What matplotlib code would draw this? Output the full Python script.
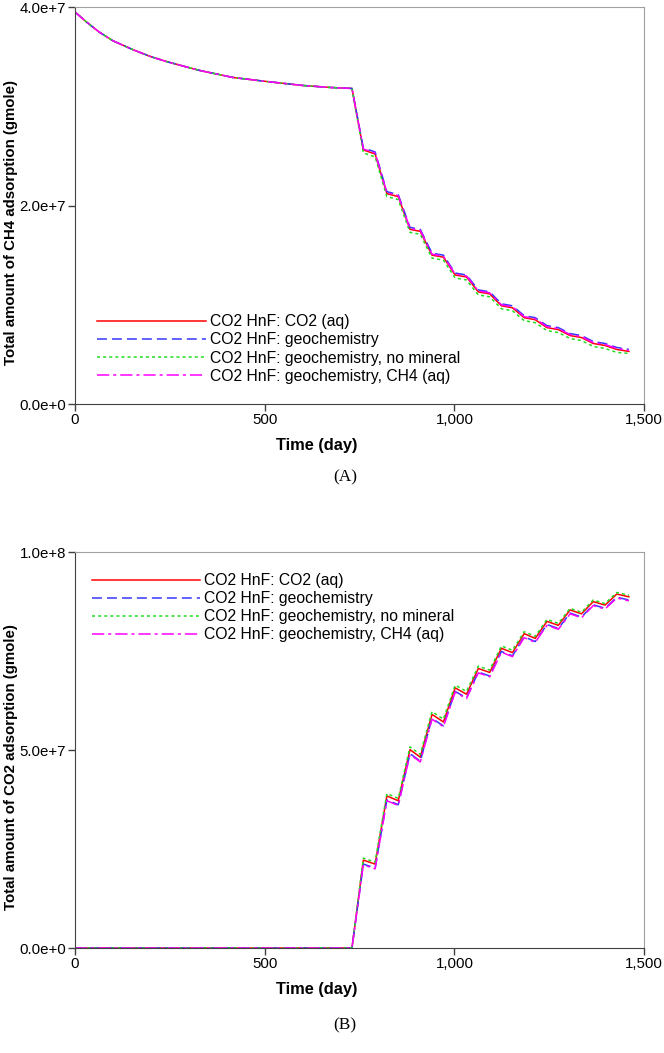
import matplotlib
matplotlib.use('Agg')
import matplotlib.pyplot as plt
from matplotlib.ticker import FuncFormatter, FixedLocator

plt.rcParams['font.family'] = ['Liberation Sans', 'DejaVu Sans']

# time axis (days), shared by all series
t_pre = [0, 30, 63, 100, 153, 200, 242, 300, 330, 417, 505, 600, 672]
t_cyc = [730, 760, 791, 822, 852, 883, 910, 941, 971, 1002, 1032, 1063, 1093,
         1124, 1153, 1184, 1213, 1244, 1274, 1305, 1335, 1366, 1397, 1428, 1460]
time = t_pre + t_cyc

labels = ['CO2 HnF: CO2 (aq)', 'CO2 HnF: geochemistry',
          'CO2 HnF: geochemistry, no mineral', 'CO2 HnF: geochemistry, CH4 (aq)']

# (A) CH4 adsorbed, units of 1e7 gmole
ch4_pre = [3.95, 3.85, 3.75, 3.66, 3.57, 3.50, 3.45, 3.39, 3.36, 3.29, 3.25, 3.21, 3.19]
ch4_aq = ch4_pre + [3.18, 2.56, 2.52, 2.12, 2.09, 1.76, 1.74, 1.50, 1.48, 1.30, 1.28, 1.13, 1.11,
                    0.99, 0.97, 0.87, 0.85, 0.77, 0.75, 0.69, 0.67, 0.61, 0.59, 0.55, 0.53]
ch4_geo = ch4_pre + [3.18, 2.58, 2.54, 2.14, 2.11, 1.78, 1.76, 1.52, 1.50, 1.32, 1.30, 1.15, 1.13,
                     1.01, 0.99, 0.89, 0.87, 0.79, 0.77, 0.71, 0.69, 0.63, 0.61, 0.57, 0.55]
ch4_nomin = ch4_pre + [3.18, 2.53, 2.49, 2.09, 2.06, 1.73, 1.71, 1.47, 1.45, 1.27, 1.25, 1.10, 1.08,
                       0.96, 0.94, 0.84, 0.82, 0.74, 0.72, 0.66, 0.64, 0.58, 0.56, 0.52, 0.51]
ch4_ch4aq = ch4_pre + [3.18, 2.57, 2.53, 2.13, 2.10, 1.77, 1.75, 1.51, 1.49, 1.31, 1.29, 1.14, 1.12,
                       1.00, 0.98, 0.88, 0.86, 0.78, 0.76, 0.70, 0.68, 0.62, 0.60, 0.56, 0.54]

# (B) CO2 adsorbed, units of 1e7 gmole
co2_pre = [0.0] * len(t_pre)
co2_aq = co2_pre + [0, 2.22, 2.12, 3.84, 3.72, 5.01, 4.82, 5.90, 5.71, 6.57, 6.41, 7.06, 6.96,
                    7.57, 7.46, 7.94, 7.82, 8.25, 8.15, 8.54, 8.44, 8.75, 8.66, 8.94, 8.87]
co2_geo = co2_pre + [0, 2.12, 2.02, 3.74, 3.62, 4.91, 4.72, 5.80, 5.61, 6.48, 6.32, 6.97, 6.87,
                     7.49, 7.38, 7.86, 7.74, 8.17, 8.07, 8.46, 8.36, 8.67, 8.58, 8.86, 8.79]
co2_nomin = co2_pre + [0, 2.27, 2.17, 3.90, 3.78, 5.08, 4.89, 5.97, 5.78, 6.64, 6.48, 7.12, 7.02,
                       7.63, 7.52, 7.99, 7.87, 8.30, 8.20, 8.58, 8.48, 8.79, 8.70, 8.98, 8.91]
co2_ch4aq = co2_pre + [0, 2.10, 2.00, 3.72, 3.60, 4.89, 4.70, 5.78, 5.59, 6.46, 6.30, 6.95, 6.85,
                       7.47, 7.36, 7.84, 7.72, 8.15, 8.05, 8.44, 8.34, 8.65, 8.56, 8.84, 8.77]

colors = ['#ff0000', '#3535ff', '#22dd22', '#ff00ff']
styles = ['-', (0, (6.5, 3.3)), (0, (2, 2)), (0, (8, 2.6, 2, 2.6))]


def sci_fmt(v, pos):
    if v == 0:
        return '0.0e+0'
    e = 0
    m = v
    while abs(m) >= 10:
        m /= 10
        e += 1
    return '%.1fe+%d' % (m, e)


def style_axes(ax, yticks, ylabel):
    ax.set_xlim(0, 1500)
    ax.set_ylim(0, yticks[-1])
    ax.xaxis.set_major_locator(FixedLocator([0, 500, 1000, 1500]))
    ax.xaxis.set_major_formatter(FuncFormatter(lambda v, p: '{:,.0f}'.format(v)))
    ax.yaxis.set_major_locator(FixedLocator(yticks))
    ax.yaxis.set_major_formatter(FuncFormatter(sci_fmt))
    ax.tick_params(direction='out', length=5, width=1, colors='#404040',
                   labelcolor='black', labelsize=10.8, pad=1.5)
    for s in ['left', 'bottom']:
        ax.spines[s].set_color('#404040')
    for s in ['top', 'right']:
        ax.spines[s].set_color('#a0a0a0')
    ax.set_xlabel('Time (day)', fontsize=11.8, fontweight='bold')
    ax.xaxis.set_label_coords(0.425, -0.085)
    ax.set_ylabel(ylabel, fontsize=10.8, fontweight='bold')
    ax.yaxis.set_label_coords(-0.101, 0.458)


fig = plt.figure(figsize=(6.64, 10.53), dpi=100)
ax1 = fig.add_axes([0.113, 0.6163, 0.857, 0.377])
ax2 = fig.add_axes([0.113, 0.0997, 0.857, 0.376])

series_a = [ch4_aq, ch4_geo, ch4_nomin, ch4_ch4aq]
series_b = [co2_aq, co2_geo, co2_nomin, co2_ch4aq]

for ax, series in [(ax1, series_a), (ax2, series_b)]:
    for vals, c, ls, lab in zip(series, colors, styles, labels):
        ax.plot(time, [v * 1e7 for v in vals], color=c, linestyle=ls, lw=1.1, label=lab)

style_axes(ax1, [0, 2e7, 4e7], 'Total amount of CH4 adsorption (gmole)')
style_axes(ax2, [0, 5e7, 1e8], 'Total amount of CO2 adsorption (gmole)')

leg_kw = dict(frameon=False, fontsize=11.3, handlelength=6.9, handletextpad=0.26,
              labelspacing=0.2, borderpad=0, borderaxespad=0, loc='upper left')
ax1.legend(bbox_to_anchor=(0.039, 0.226), **leg_kw)
ax2.legend(bbox_to_anchor=(0.030, 0.947), **leg_kw)

fig.text(0.52, 1 - 477 / 1053, '(A)', ha='center', va='center', fontsize=12.5,
         family=['Liberation Serif', 'DejaVu Serif'])
fig.text(0.52, 1 - 1025 / 1053, '(B)', ha='center', va='center', fontsize=12.5,
         family=['Liberation Serif', 'DejaVu Serif'])

fig.savefig('out.png', dpi=100)
